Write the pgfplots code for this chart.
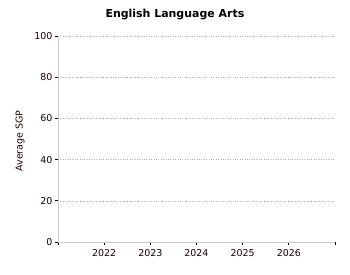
\documentclass[border=0pt]{standalone}
\usepackage{pgfplots}
\pgfplotsset{compat=1.18}
\usepackage{fontspec}
\setmainfont{DejaVu Sans}
\begin{document}
\begin{tikzpicture}[x=1bp,y=1bp]
\path[use as bounding box] (0,0) rectangle (350,275);
\begin{axis}[
  at={(58bp,33bp)}, anchor=origin,
  scale only axis, width=277bp, height=206bp,
  xmin=2021, xmax=2027, ymin=0, ymax=100,
  axis x line*=bottom, axis y line*=left,
  axis line style={draw=black!20, line width=1pt, -},
  x axis line style={draw=black!20},
  y axis line style={draw=black!20},
  xtick={2021,...,2027},
  xticklabels={,2022,2023,2024,2025,2026,},
  ytick={0,20,...,100},
  tick style={draw=black, line width=0.7pt},
  tick align=outside, major tick length=3bp,
  ymajorgrids, grid style={dotted, draw=black!30, line width=0.5pt},
  tick label style={font=\fontsize{9.5}{11}\selectfont, text=black!90!red},
  /pgf/number format/assume math mode=true,
  /pgf/number format/1000 sep={},
  xticklabel style={yshift=-1bp},
  yticklabel style={xshift=1bp},
  ylabel={Average SGP},
  ylabel style={font=\fontsize{9.5}{11}\selectfont, text=black!90!red, at={(axis description cs:-0.137,0.49)}, anchor=center},
  title={\textbf{English Language Arts}},
  title style={font=\fontsize{11}{13}\selectfont, at={(axis description cs:0.422,1)}, anchor=base, yshift=13bp},
]
\end{axis}
\end{tikzpicture}
\end{document}
